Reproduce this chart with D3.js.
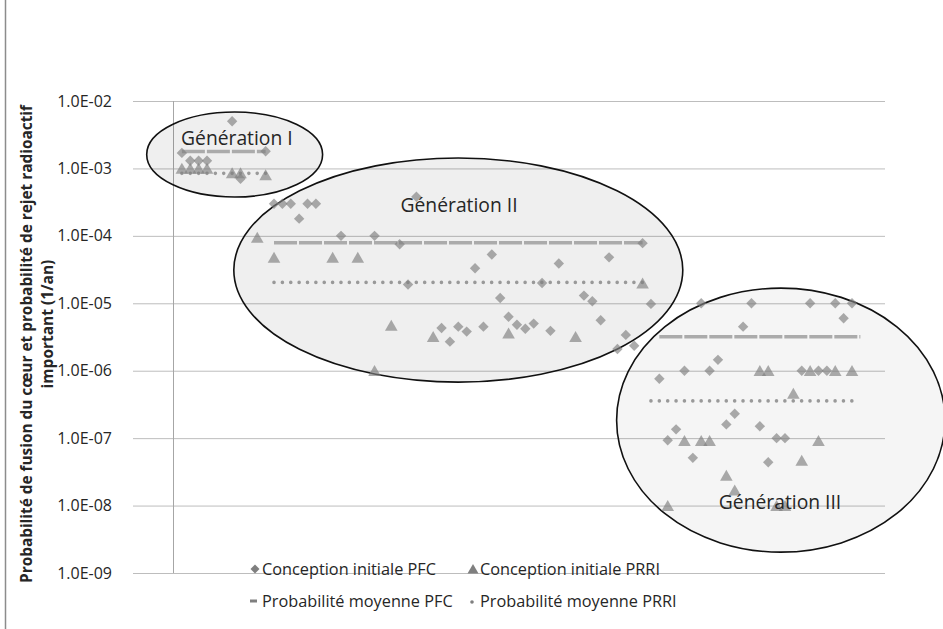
<!DOCTYPE html>
<html><head><meta charset="utf-8">
<script src="https://cdn.jsdelivr.net/npm/d3@7"></script>
<style>body{margin:0;background:#fff} svg{display:block} text{font-family:"Open Sans",sans-serif;fill:#262626}</style>
</head><body><svg id="c" width="943" height="629"></svg>
<script>
// ---------- data ----------
const pfcIndex  = [1,2,3,4,7,8,11, 12,13,14,15,16,17,20,24,27,28,29,32,33,34,35,36,37,38,39,40,41,42,43,44,45,46,49,50,51,52,53,54,55,56,57, 58,59,60,61,62,63,64,65,66,67,68,69,70,71,72,73,75,76,77,78,79,80,81];
const pfcValues = [1.7e-3,1.3e-3,1.3e-3,1.3e-3,5e-3,7e-4,1.8e-3,
  3e-4,3e-4,3e-4,1.8e-4,3e-4,3e-4,1e-4,1e-4,7.5e-5,1.9e-5,3.8e-4,4.3e-6,2.7e-6,4.5e-6,3.8e-6,3.3e-5,4.5e-6,5.3e-5,1.2e-5,6.3e-6,4.8e-6,4.2e-6,5e-6,2e-5,3.9e-6,3.9e-5,1.3e-5,1.07e-5,5.6e-6,4.8e-5,2.1e-6,3.4e-6,2.35e-6,7.8e-5,9.8e-6,
  7.6e-7,9.3e-8,1.35e-7,1e-6,5.1e-8,1e-5,1e-6,1.45e-6,1.6e-7,2.3e-7,4.5e-6,1e-5,1.5e-7,4.4e-8,1e-7,1e-7,1e-6,1e-5,1e-6,1e-6,1e-5,6e-6,1e-5];
const prriIndex  = [1,2,3,4,7,8,11, 10,12,19,22,24,26,31,40,48,56, 59,61,63,64,66,67,70,71,72,73,74,75,76,77,79,81];
const prriValues = [1e-3,1e-3,1e-3,1e-3,8.6e-4,8.6e-4,8e-4,
  9.5e-5,4.8e-5,4.8e-5,4.8e-5,1e-6,4.7e-6,3.2e-6,3.6e-6,3.2e-6,2e-5,
  1e-8,9.2e-8,9.2e-8,9.2e-8,2.8e-8,1.7e-8,1e-6,1e-6,1e-8,1e-8,4.6e-7,4.7e-8,1e-6,9.2e-8,1e-6,1e-6];
// mean lines per generation: [from index, to index, value]
const meanPFC  = [[1,11,1.78e-3],[12,56,7.9e-5],[58,82,3.2e-6]];
const meanPRRI = [[1,11,8.45e-4],[12,56,2.04e-5],[57,81,3.57e-7]];
const yTicks = [1e-2,1e-3,1e-4,1e-5,1e-6,1e-7,1e-8,1e-9];
const yTickLabels = ["1.0E-02","1.0E-03","1.0E-04","1.0E-05","1.0E-06","1.0E-07","1.0E-08","1.0E-09"];
// generation groups: name, centre index, centre exponent, radius (index units), radius (decades)
const genNames = ["Génération I","Génération II","Génération III"];
const genCx = [7.3, 34.0, 72.5];
const genCy = [-2.794, -4.507, -6.733];
const genRx = [10.5, 26.8, 19.6];
const genRy = [0.63, 1.662, 1.958];
const genLabelX = [0.9, 27.1, 65.1];
const genLabelY = [-2.655, -3.651, -8.05];
const legendLabels = ["Conception initiale PFC","Conception initiale PRRI","Probabilité moyenne PFC","Probabilité moyenne PRRI"];

// ---------- chart ----------
const svg = d3.select("#c");
const x = d3.scaleLinear().domain([0,85]).range([173.5,885.5]);
const y = d3.scaleLog().domain([1e-9,1e-2]).range([573,101]);
const yE = e => y(Math.pow(10,e));

svg.append("rect").attr("x",0).attr("y",0).attr("width",943).attr("height",629).attr("fill","#fff");
svg.append("line").attr("x1",5.5).attr("x2",5.5).attr("y1",0).attr("y2",629).attr("stroke","#8c8c8c").attr("stroke-width",1.5);

// gridlines + tick labels
const yAxis = d3.axisLeft(y).tickValues(yTicks).tickFormat((d,i)=>yTickLabels[i]).tickSize(-(885-133)).tickPadding(10);
const ga = svg.append("g").attr("transform","translate(133,0)").call(yAxis);
ga.select(".domain").remove();
ga.selectAll(".tick line").attr("stroke","#bdbdbd").attr("stroke-width",1);
ga.selectAll(".tick text").attr("font-size",16).attr("fill","#262626").style("font-family","'Open Sans',sans-serif").attr("x",-21);
// vertical axis line
svg.append("line").attr("x1",x(0)).attr("x2",x(0)).attr("y1",y(1e-2)).attr("y2",y(1e-9)).attr("stroke","#a6a6a6");

// y axis title
const tg = svg.append("g").attr("font-weight","bold").attr("font-size",15.5);
tg.append("text").attr("transform","translate(32,344) rotate(-90)").attr("text-anchor","middle")
  .attr("textLength",478).attr("lengthAdjust","spacingAndGlyphs")
  .text("Probabilité de fusion du cœur et probabilité de rejet radioactif");
tg.append("text").attr("transform","translate(53,324) rotate(-90)").attr("text-anchor","middle")
  .text("important (1/an)");

// ellipses
const ell = svg.append("g");
genNames.forEach((n,i)=>{
  const cx = x(genCx[i]), cy = yE(genCy[i]);
  ell.append("ellipse").attr("cx",cx).attr("cy",cy)
    .attr("rx",x(genCx[i]+genRx[i])-cx).attr("ry",yE(genCy[i]-genRy[i])-cy)
    .attr("fill","#000").attr("fill-opacity", i===2?0.04:0.062)
    .attr("stroke","#111").attr("stroke-width",1.6);
});

// mean lines
const ml = svg.append("g");
meanPFC.forEach(m=>{
  ml.append("line").attr("x1",x(m[0])).attr("x2",x(m[1])).attr("y1",y(m[2])).attr("y2",y(m[2]))
    .attr("stroke","#ababab").attr("stroke-width",3.5).attr("stroke-dasharray","23,2");
});
meanPRRI.forEach(m=>{
  ml.append("line").attr("x1",x(m[0])).attr("x2",x(m[1])).attr("y1",y(m[2])).attr("y2",y(m[2]))
    .attr("stroke","#999").attr("stroke-width",3.6).attr("stroke-linecap","round").attr("stroke-dasharray","0,8.37");
});

// markers
const diamond = "M0,-5.2L5.2,0L0,5.2L-5.2,0Z";
const tri = "M0,-5.6L6.3,5.4L-6.3,5.4Z";
const mk = svg.append("g");
mk.selectAll("path.pfc").data(pfcIndex).join("path").attr("class","pfc")
  .attr("d",diamond).attr("transform",(d,i)=>`translate(${x(d)},${y(pfcValues[i])})`)
  .attr("fill","#7f7f7f").attr("fill-opacity",0.66);
mk.selectAll("path.prri").data(prriIndex).join("path").attr("class","prri")
  .attr("d",tri).attr("transform",(d,i)=>`translate(${x(d)},${y(prriValues[i])})`)
  .attr("fill","#7f7f7f").attr("fill-opacity",0.66);

// generation labels
genNames.forEach((n,i)=>{
  svg.append("text").attr("x",x(genLabelX[i])).attr("y",yE(genLabelY[i])).attr("font-size",19.3).text(n);
});

// legend
const lg = svg.append("g").attr("font-size",16.3);
lg.append("path").attr("d","M0,-4.5L4.5,0L0,4.5L-4.5,0Z").attr("transform","translate(255,569)").attr("fill","#7f7f7f");
lg.append("text").attr("x",262).attr("y",575).text(legendLabels[0]);
lg.append("path").attr("d","M0,-5L5.5,4.5L-5.5,4.5Z").attr("transform","translate(473,569)").attr("fill","#7f7f7f");
lg.append("text").attr("x",480).attr("y",575).text(legendLabels[1]);
lg.append("line").attr("x1",250).attr("x2",257).attr("y1",601).attr("y2",601).attr("stroke","#7f7f7f").attr("stroke-width",3);
lg.append("text").attr("x",262).attr("y",607).text(legendLabels[2]);
lg.append("circle").attr("cx",472).attr("cy",602).attr("r",1.8).attr("fill","#7f7f7f");
lg.append("text").attr("x",480).attr("y",607).text(legendLabels[3]);
</script></body></html>
